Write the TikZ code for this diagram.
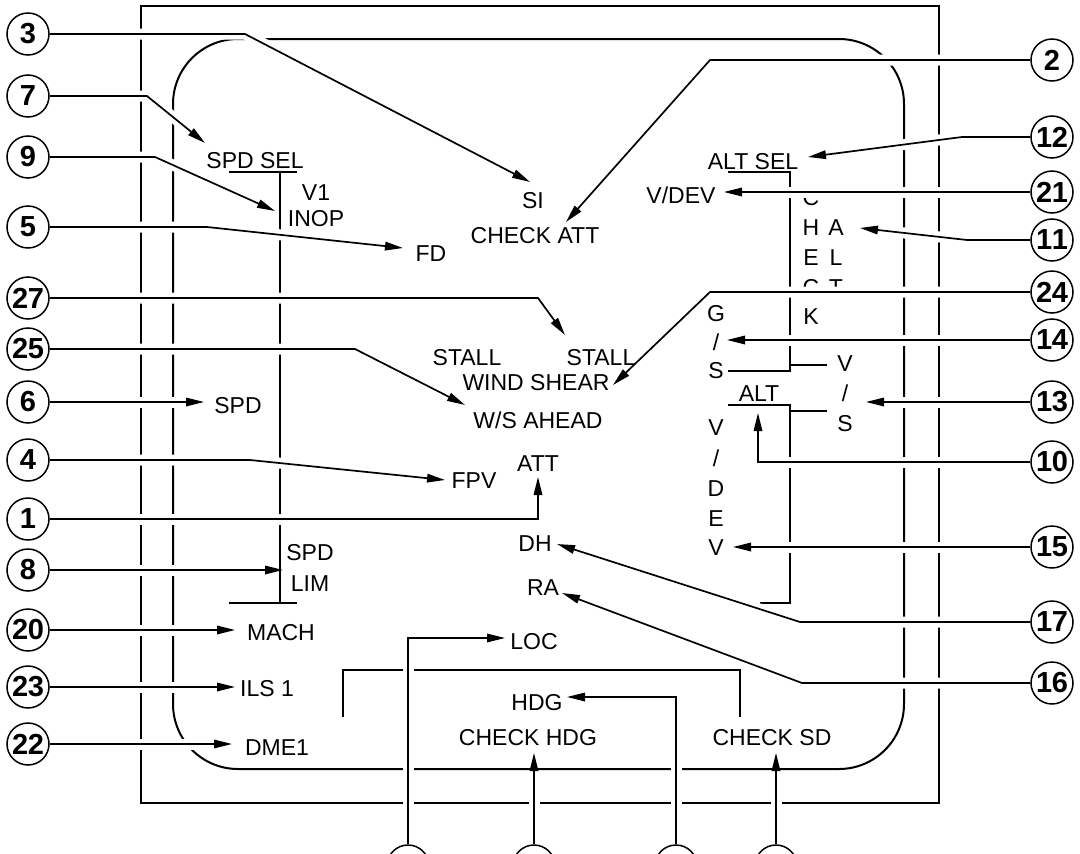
\documentclass[tikz,border=0pt]{standalone}
\usepackage{fontspec}
\setmainfont{Liberation Sans}
\usetikzlibrary{arrows.meta}
\begin{document}
\begin{tikzpicture}[x=1pt,y=-1pt,
  frame/.style={line width=2pt},
  tape/.style={line width=1.7pt},
  lead/.style={line width=1.7pt, -{Triangle[length=18pt,width=8.5pt]},
    preaction={draw=white, line width=11pt, arrows=-, shorten >=20pt, shorten <=2pt}},
  txt/.style={font=\fontsize{23}{26}\selectfont, inner sep=0pt, text height=16.5pt, text depth=0pt},
  num/.style={circle, draw, fill=white, line width=1.5pt, minimum size=42pt, inner sep=0pt,
    font=\fontsize{29}{29}\selectfont\bfseries}]
\fill[white] (0,0) rectangle (1080,854);
\useasboundingbox (0,0) rectangle (1080,854);
\clip (0,0) rectangle (1080,854);

% frames
\draw[frame] (141,6) rectangle (939,803);
\draw[frame, rounded corners=65pt] (173,39) rectangle (904,769);

% speed tape bracket
\draw[tape] (229,172) -- (297,172);
\draw[tape] (280,172) -- (280,603);
\draw[tape] (229,603) -- (297,603);
% altitude tape bracket
\draw[tape] (728,172) -- (790,172) -- (790,371) -- (728,371);
\draw[tape] (790,365) -- (827,365);
\draw[tape] (728,405) -- (790,405) -- (790,603) -- (760,603);
\draw[tape] (790,411) -- (827,411);
% lower box
\draw[tape] (343,717) -- (343,670) -- (740,670) -- (740,717);

% callout circles
\node[num] (c3)  at (28,34)  {3};
\node[num] (c7)  at (28,96)  {7};
\node[num] (c9)  at (28,157) {9};
\node[num] (c5)  at (28,227) {5};
\node[num] (c27) at (28,298) {2\kern-0.5pt7};
\node[num] (c25) at (28,349) {2\kern-0.5pt5};
\node[num] (c6)  at (28,402) {6};
\node[num] (c4)  at (28,460) {4};
\node[num] (c1)  at (28,519) {1};
\node[num] (c8)  at (28,570) {8};
\node[num] (c20) at (28,630) {2\kern-0.5pt0};
\node[num] (c23) at (28,687) {2\kern-0.5pt3};
\node[num] (c22) at (28,744) {2\kern-0.5pt2};

\node[num] (c2)  at (1052,60)  {2};
\node[num] (c12) at (1052,137) {1\kern-0.5pt2};
\node[num] (c21) at (1052,192) {2\kern-0.5pt1};
\node[num] (c11) at (1052,240) {1\kern-0.5pt1};
\node[num] (c24) at (1052,292) {2\kern-0.5pt4};
\node[num] (c14) at (1052,340) {1\kern-0.5pt4};
\node[num] (c13) at (1052,402) {1\kern-0.5pt3};
\node[num] (c10) at (1052,462) {1\kern-0.5pt0};
\node[num] (c15) at (1052,547) {1\kern-0.5pt5};
\node[num] (c17) at (1052,622) {1\kern-0.5pt7};
\node[num] (c16) at (1052,683) {1\kern-0.5pt6};

\node[num] (b1) at (408,866) {};
\node[num] (b2) at (534,866) {};
\node[num] (b3) at (676,866) {};
\node[num] (b4) at (776,866) {};

% vertical CHECK / ALT letters (partly covered by leaders)
\node[txt] (ck1) at (811,197) {C};
\node[txt] (ck2) at (811,227) {H};
\node[txt] (ck3) at (811,257) {E};
\node[txt] (ck4) at (811,287) {C};
\node[txt] (ck5) at (811,316) {K};
\node[txt] (al1) at (836,227) {A};
\node[txt] (al2) at (836,257) {L};
\node[txt] (al3) at (836,287) {T};

% arrow tip points
\coordinate (t3) at (530,182);
\coordinate (t7) at (205,143);
\coordinate (t9) at (275,211);
\coordinate (t5) at (403,248);
\coordinate (t27) at (565,335);
\coordinate (t25) at (465,405);
\coordinate (t6) at (204,402);
\coordinate (t4) at (445,480);
\coordinate (t1) at (538,477);
\coordinate (t8) at (283,570);
\coordinate (t20) at (235,630);
\coordinate (t23) at (235,687);
\coordinate (t22) at (232,744);
\coordinate (t2) at (566,222);
\coordinate (t12) at (808,157);
\coordinate (t21) at (724,192);
\coordinate (t11) at (860,228);
\coordinate (t24) at (613,385);
\coordinate (t14) at (727,340);
\coordinate (t13) at (866,402);
\coordinate (t10) at (758,413);
\coordinate (t15) at (733,547);
\coordinate (t17) at (557,544);
\coordinate (t16) at (562,593);
\coordinate (tLOC) at (505,638);
\coordinate (tCHDG) at (534,753);
\coordinate (tHDG) at (567,697);
\coordinate (tCSD) at (776,753);

% leaders
\draw[lead] (c3) -- (245,34) -- (t3);
\draw[lead] (c7) -- (147,96) -- (t7);
\draw[lead] (c9) -- (155,157) -- (t9);
\draw[lead] (c5) -- (207,227) -- (t5);
\draw[lead] (c27) -- (538,298) -- (t27);
\draw[lead] (c25) -- (355,349) -- (t25);
\draw[lead] (c6) -- (t6);
\draw[lead] (c4) -- (250,460) -- (t4);
\draw[lead] (c1) -- (538,519) -- (t1);
\draw[lead] (c8) -- (t8);
\draw[lead] (c20) -- (t20);
\draw[lead] (c23) -- (t23);
\draw[lead] (c22) -- (t22);

\draw[lead] (c2) -- (710,60) -- (t2);
\draw[lead] (c12) -- (962,137) -- (t12);
\draw[lead] (c21) -- (t21);
\draw[lead] (c11) -- (967,240) -- (t11);
\draw[lead] (c24) -- (710,292) -- (t24);
\draw[lead] (c14) -- (t14);
\draw[lead] (c13) -- (t13);
\draw[lead] (c10) -- (758,462) -- (t10);
\draw[lead] (c15) -- (t15);
\draw[lead] (c17) -- (800,622) -- (t17);
\draw[lead] (c16) -- (802,683) -- (t16);

\draw[lead] (b1) -- (408,638) -- (tLOC);
\draw[lead] (b2) -- (tCHDG);
\draw[lead] (b3) -- (676,697) -- (tHDG);
\draw[lead] (b4) -- (tCSD);

% texts
\node[txt] (spdsel) at (255,160) {SPD SEL};
\node[txt] (v1) at (316,192) {V1};
\node[txt] (inop) at (316,218) {INOP};
\node[txt] (si) at (533,200) {SI};
\node[txt] (chkatt) at (535,235) {CHECK ATT};
\node[txt] (fd) at (431,253) {FD};
\node[txt] (altsel) at (753,161) {ALT SEL};
\node[txt] (vdev) at (681,195) {V/DEV};
\node[txt] (gs1) at (716,313) {G};
\node[txt] (gs2) at (716,342) {/};
\node[txt] (gs3) at (716,370) {S};
\node[txt] (vs1) at (845,363) {V};
\node[txt] (vs2) at (845,393) {/};
\node[txt] (vs3) at (845,423) {S};
\node[txt] (alt) at (759,393) {ALT};
\node[txt] (vd1) at (716,427) {V};
\node[txt] (vd2) at (716,458) {/};
\node[txt] (vd3) at (716,488) {D};
\node[txt] (vd4) at (716,518) {E};
\node[txt] (vd5) at (716,547) {V};
\node[txt] (stall1) at (467,357) {STALL};
\node[txt] (stall2) at (601,357) {STALL};
\node[txt] (wind) at (536,382) {WIND SHEAR};
\node[txt] (wsa) at (538,420) {W/S AHEAD};
\node[txt] (att) at (538,463) {ATT};
\node[txt] (fpv) at (474,480) {FPV};
\node[txt] (dh) at (535,543) {DH};
\node[txt] (ra) at (543,587) {RA};
\node[txt] (spd) at (238,405) {SPD};
\node[txt] (spdl) at (310,552) {SPD};
\node[txt] (lim) at (310,583) {LIM};
\node[txt] (mach) at (281,632) {MACH};
\node[txt] (ils) at (267,688) {ILS 1};
\node[txt] (dme) at (277,747) {DME1};
\node[txt] (loc) at (534,641) {LOC};
\node[txt] (hdg) at (537,702) {HDG};
\node[txt] (chkhdg) at (528,737) {CHECK HDG};
\node[txt] (chksd) at (772,737) {CHECK SD};
\end{tikzpicture}
\end{document}
